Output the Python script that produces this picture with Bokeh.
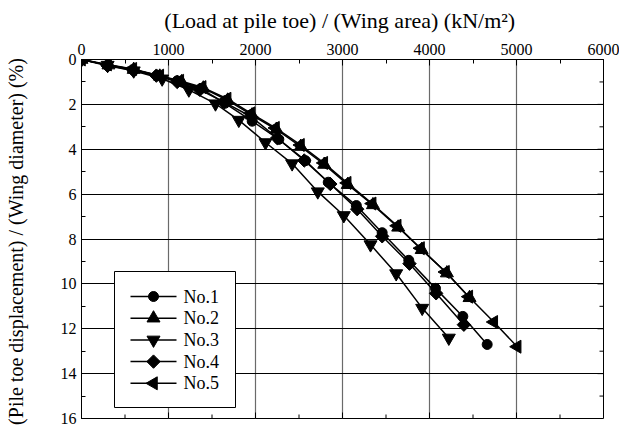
import numpy as np
from bokeh.plotting import figure
from bokeh.models import Range1d, SingleIntervalTicker, ColumnDataSource
from bokeh.core.properties import value
from bokeh.embed import file_html
from bokeh.resources import INLINE

# ---- data ----
x_no1 = [0, 300, 590, 870, 1100, 1370, 1650, 1962, 2268, 2575, 2836, 3159, 3456, 3762, 4069, 4383, 4663]
y_no1 = [0, 0.25, 0.45, 0.70, 0.95, 1.30, 1.95, 2.75, 3.56, 4.51, 5.47, 6.51, 7.72, 8.95, 10.20, 11.45, 12.70]

x_no2 = [0, 310, 600, 900, 1150, 1400, 1680, 1960, 2240, 2520, 2790, 3060, 3350, 3640, 3910, 4200, 4460]
y_no2 = [0, 0.25, 0.45, 0.75, 1.00, 1.28, 1.82, 2.48, 3.12, 3.88, 4.68, 5.58, 6.48, 7.48, 8.48, 9.52, 10.62]

x_no3 = [0, 300, 600, 927, 1234, 1540, 1808, 2115, 2421, 2716, 3015, 3322, 3617, 3916, 4222]
y_no3 = [0, 0.25, 0.50, 0.86, 1.35, 1.97, 2.70, 3.70, 4.64, 5.89, 6.95, 8.25, 9.54, 11.08, 12.41]

x_no4 = [0, 300, 600, 860, 1100, 1360, 1640, 1950, 2250, 2560, 2860, 3169, 3456, 3770, 4076, 4395]
y_no4 = [0, 0.28, 0.50, 0.72, 1.00, 1.35, 1.90, 2.55, 3.50, 4.50, 5.55, 6.67, 7.88, 9.10, 10.42, 11.82]

x_no5 = [0, 300, 590, 900, 1130, 1387, 1674, 1950, 2230, 2517, 2785, 3054, 3341, 3629, 3897, 4184, 4452, 4739, 5008]
y_no5 = [0, 0.22, 0.42, 0.72, 0.95, 1.23, 1.75, 2.40, 3.05, 3.81, 4.61, 5.50, 6.42, 7.41, 8.41, 9.47, 10.57, 11.70, 12.80]

labels = ["No.1", "No.2", "No.3", "No.4", "No.5"]

x_title = "(Load at pile toe) / (Wing area)  (kN/m\u00b2)"
y_title = "(Pile toe displacement) / (Wing diameter)  (%)"

X_MAX, X_STEP = 6000, 1000
Y_MAX, Y_STEP = 16, 2

FONT = "Liberation Serif"

FW, FH = 522, 359  # frame size in px

p = figure(width=619, height=427, output_backend="svg", toolbar_location=None,
           x_range=Range1d(0, X_MAX), y_range=Range1d(Y_MAX, 0),
           x_axis_location="above", frame_width=FW, frame_height=FH,
           min_border_left=81, min_border_right=16, min_border_top=59, min_border_bottom=9)
p.background_fill_color = "white"
p.border_fill_color = "white"
p.outline_line_color = "black"
p.outline_line_width = 1

xt = SingleIntervalTicker(interval=X_STEP, num_minor_ticks=2)
yt = SingleIntervalTicker(interval=Y_STEP, num_minor_ticks=2)

ax = p.xaxis[0]
ax.ticker = xt
ax.axis_label = x_title
ay = p.yaxis[0]
ay.ticker = yt
ay.axis_label = y_title

for a in (ax, ay):
    a.axis_label_text_font = FONT
    a.axis_label_text_font_style = "normal"
    a.axis_label_text_color = "black"
    a.major_label_text_font = FONT
    a.major_label_text_font_size = "16px"
    a.major_label_text_color = "black"
    a.major_tick_in = 6
    a.major_tick_out = 0
    a.minor_tick_in = 4
    a.minor_tick_out = 0
    a.axis_line_color = "black"
    a.major_tick_line_color = "black"
    a.minor_tick_line_color = "black"
ax.axis_label_text_font_size = "22px"
ax.major_label_standoff = 5
ax.axis_label_standoff = 8
ay.axis_label_text_font_size = "20px"
ay.major_label_standoff = 5
ay.axis_label_standoff = 31

p.xgrid.ticker = xt
p.ygrid.ticker = yt
p.xgrid.grid_line_color = "#6a6a6a"
p.xgrid.grid_line_width = 1.2
p.ygrid.grid_line_color = "black"
p.ygrid.grid_line_width = 1

series = [
    (x_no1, y_no1, "circle", 10, 0.0),
    (x_no2, y_no2, "triangle", 13, 0.0),
    (x_no3, y_no3, "inverted_triangle", 13, 0.0),
    (x_no4, y_no4, "square", 9.5, np.pi / 4),
    (x_no5, y_no5, "triangle", 13, np.pi / 2),
]

for xs, ys, mk, sz, ang in series:
    src = ColumnDataSource(dict(x=xs, y=ys, a=[float(ang)] * len(xs)))
    p.line("x", "y", source=src, line_color="black", line_width=1.5)
    p.scatter("x", "y", source=src, marker=mk, size=sz, angle="a",
              fill_color="black", line_color="black")

# ---- pixel space of the frame (y downward) for ticks on bottom/right and the legend ----
p.extra_x_ranges = {"px": Range1d(0, FW)}
p.extra_y_ranges = {"py": Range1d(FH, 0)}

# inward ticks on the bottom and right frame edges (major + one minor between)
nx = 2 * X_MAX // X_STEP
ny = 2 * Y_MAX // Y_STEP
bx_pos = [FW * i / nx for i in range(1, nx)]
bx_len = [6 if i % 2 == 0 else 4 for i in range(1, nx)]
p.segment(x0=bx_pos, x1=bx_pos, y0=[FH] * len(bx_pos), y1=[FH - L for L in bx_len],
          x_range_name="px", y_range_name="py", line_color="black", line_width=1)
ry_pos = [FH * j / ny for j in range(1, ny)]
ry_len = [6 if j % 2 == 0 else 4 for j in range(1, ny)]
p.segment(x0=[FW] * len(ry_pos), x1=[FW - L for L in ry_len], y0=ry_pos, y1=ry_pos,
          x_range_name="px", y_range_name="py", line_color="black", line_width=1)

# legend
LX0, LX1, LY0, LY1 = 33, 154, 212, 348
p.quad(left=[LX0], right=[LX1], top=[LY0], bottom=[LY1], x_range_name="px", y_range_name="py",
       fill_color="white", line_color="black", line_width=1)
rows = [237 + 21.7 * i for i in range(5)]
p.segment(x0=[49] * 5, x1=[95] * 5, y0=rows, y1=rows, x_range_name="px", y_range_name="py",
          line_color="black", line_width=1.5)
for (xs, ys, mk, sz, ang), yy in zip(series, rows):
    p.scatter(x=[72], y=[yy], marker=mk, size=sz, angle=float(ang), x_range_name="px", y_range_name="py",
              fill_color="black", line_color="black")
p.text(x=[102] * 5, y=rows, text=labels, x_range_name="px", y_range_name="py",
       text_font=value(FONT), text_font_size="18px", text_baseline="middle", text_align="left",
       text_color="black")

open("out.html", "w").write(file_html(p, INLINE))
